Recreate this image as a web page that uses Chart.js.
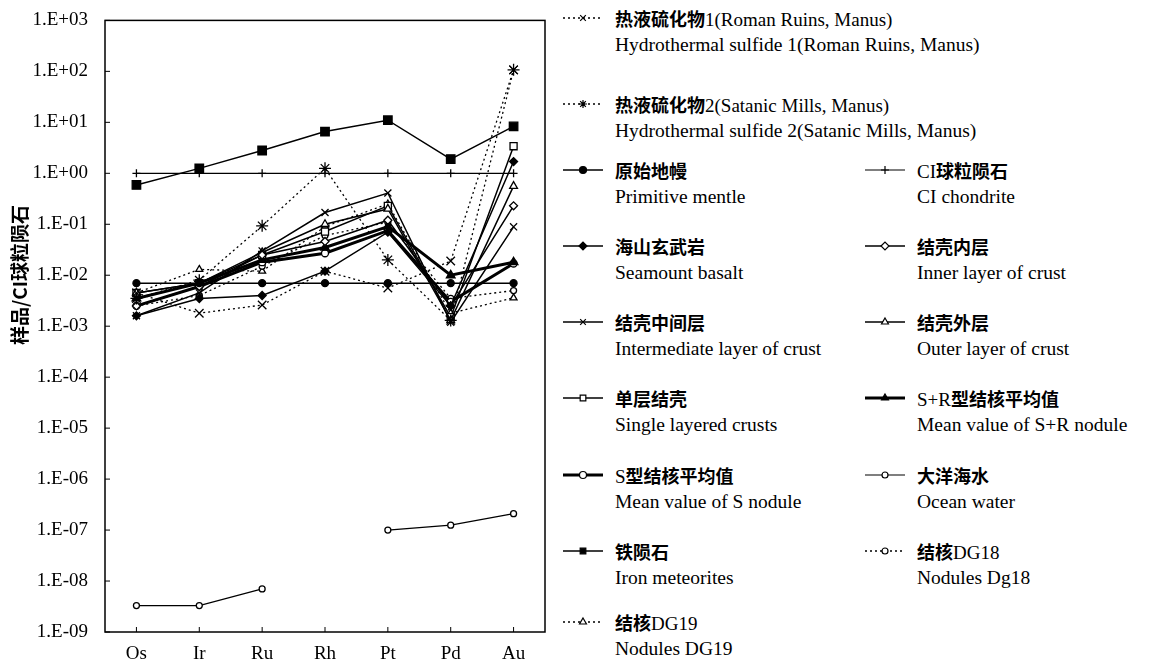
<!DOCTYPE html>
<html>
<head>
<meta charset="utf-8">
<script src="https://cdn.jsdelivr.net/npm/chart.js@4.4.0/dist/chart.umd.min.js"></script>
<style>
  body { margin: 0; background: #fff; width: 1169px; height: 662px; position: relative; overflow: hidden; }
  #plot { position: absolute; left: 0; top: 0; }
  .item { position: absolute; white-space: nowrap; color: #000; }
  .item canvas { position: absolute; left: 0; top: 0; }
  .zh { position: absolute; font-family: "Liberation Serif", "Noto Sans CJK SC", serif; font-size: 19px; line-height: 20px; }
  .zh b { font-family: "Noto Sans CJK SC", sans-serif; font-weight: 700; font-size: 18px; }
  .en { position: absolute; font-family: "Liberation Serif", serif; font-size: 19.5px; line-height: 20px; }
</style>
</head>
<body>
<canvas id="plot" width="560" height="662"></canvas>
<div id="legend"></div>
<script>
// elements on the x axis
var elements = ['Os', 'Ir', 'Ru', 'Rh', 'Pt', 'Pd', 'Au'];

// y axis ticks (log scale)
var yTickValues = [1e3, 1e2, 1e1, 1e0, 1e-1, 1e-2, 1e-3, 1e-4, 1e-5, 1e-6, 1e-7, 1e-8, 1e-9];
var yTickLabels = ['1.E+03', '1.E+02', '1.E+01', '1.E+00', '1.E-01', '1.E-02', '1.E-03',
                   '1.E-04', '1.E-05', '1.E-06', '1.E-07', '1.E-08', '1.E-09'];

// sample / CI chondrite values
var sulfide1     = [0.0045, 0.0018, 0.0026, 0.012, 0.0056, 0.019, 107];
var sulfide2     = [0.0035, 0.008, 0.093, 1.25, 0.02, 0.0013, 107];
var primMantle   = [0.007, 0.007, 0.007, 0.007, 0.007, 0.007, 0.007];
var ciChondrite  = [1, 1, 1, 1, 1, 1, 1];
var seamountBas  = [0.0016, 0.0035, 0.004, 0.012, 0.07, 0.0025, 1.7];
var innerCrust   = [0.0025, 0.006, 0.025, 0.046, 0.12, 0.0025, 0.23];
var midCrust     = [0.0016, 0.0045, 0.03, 0.17, 0.41, 0.0012, 0.089];
var outerCrust   = [0.0045, 0.007, 0.028, 0.10, 0.20, 0.0013, 0.56];
var singleCrust  = [0.0045, 0.007, 0.025, 0.072, 0.23, 0.0015, 3.4];
var srNodule     = [0.0035, 0.007, 0.02, 0.035, 0.09, 0.01, 0.018];
var sNodule      = [0.0025, 0.006, 0.018, 0.027, 0.075, 0.003, 0.017];
var oceanWater   = [3.3e-9, 3.3e-9, 7e-9, null, 1.0e-7, 1.25e-7, 2.1e-7];
var ironMeteor   = [0.59, 1.25, 2.8, 6.6, 11, 1.9, 8.3];
var dg18         = [0.0025, 0.004, 0.015, 0.06, 0.11, 0.0035, 0.005];
var dg19         = [0.0045, 0.013, 0.012, 0.09, 0.25, 0.0018, 0.0036];

var dotted = [2, 3];
var series = [
  { key: 's1', zh: '热液硫化物1(Roman Ruins, Manus)', en: 'Hydrothermal sulfide 1(Roman Ruins, Manus)', data: sulfide1, style: 'crossRot', r: 6, fill: '#fff', w: 1.3, dash: dotted },
  { key: 's2', zh: '热液硫化物2(Satanic Mills, Manus)', en: 'Hydrothermal sulfide 2(Satanic Mills, Manus)', data: sulfide2, style: 'star', r: 6, fill: '#fff', w: 1.3, dash: dotted },
  { key: 'pm', zh: '原始地幔', en: 'Primitive mentle', data: primMantle, style: 'circle', r: 3.5, fill: '#000', w: 1.5 },
  { key: 'ci', zh: 'CI球粒陨石', en: 'CI chondrite', data: ciChondrite, style: 'cross', r: 4, fill: '#000', w: 1.2 },
  { key: 'sb', zh: '海山玄武岩', en: 'Seamount basalt', data: seamountBas, style: 'rectRot', r: 4, fill: '#000', w: 1.5 },
  { key: 'ic', zh: '结壳内层', en: 'Inner layer of crust', data: innerCrust, style: 'rectRot', r: 4, fill: '#fff', w: 1.5 },
  { key: 'mc', zh: '结壳中间层', en: 'Intermediate layer of crust', data: midCrust, style: 'crossRot', r: 5, fill: '#fff', w: 1.5 },
  { key: 'oc', zh: '结壳外层', en: 'Outer layer of crust', data: outerCrust, style: 'triangle', r: 4.5, fill: '#fff', w: 1.5 },
  { key: 'sc', zh: '单层结壳', en: 'Single layered crusts', data: singleCrust, style: 'rect', r: 5, fill: '#fff', w: 1.5 },
  { key: 'sr', zh: 'S+R型结核平均值', en: 'Mean value of S+R nodule', data: srNodule, style: 'triangle', r: 5, fill: '#000', w: 3 },
  { key: 'sn', zh: 'S型结核平均值', en: 'Mean value of S nodule', data: sNodule, style: 'circle', r: 3.5, fill: '#fff', w: 3 },
  { key: 'ow', zh: '大洋海水', en: 'Ocean water', data: oceanWater, style: 'circle', r: 3, fill: '#fff', w: 1.2 },
  { key: 'im', zh: '铁陨石', en: 'Iron meteorites', data: ironMeteor, style: 'rect', r: 6, fill: '#000', w: 1.5 },
  { key: 'd18', zh: '结核DG18', en: 'Nodules Dg18', data: dg18, style: 'circle', r: 3, fill: '#fff', w: 1.3, dash: dotted },
  { key: 'd19', zh: '结核DG19', en: 'Nodules DG19', data: dg19, style: 'triangle', r: 4, fill: '#fff', w: 1.3, dash: dotted }
];

// legend layout: rows of [left, right]
var legendRows = [['s1'], ['s2'], ['pm', 'ci'], ['sb', 'ic'], ['mc', 'oc'], ['sc', 'sr'], ['sn', 'ow'], ['im', 'd18'], ['d19']];
var legendRowY = [18, 104, 170, 246, 322, 398, 475, 551, 622];
var legendColX = [562, 864];

var datasets = series.map(function (s) {
  return {
    label: s.zh,
    data: s.data,
    borderColor: '#000',
    borderWidth: s.w,
    borderDash: s.dash || [],
    pointStyle: s.style,
    pointRadius: s.r,
    pointHoverRadius: s.r,
    pointBackgroundColor: s.fill,
    pointBorderColor: '#000',
    pointBorderWidth: 1.3,
    fill: false,
    tension: 0,
    spanGaps: false
  };
});

var framePlugin = {
  id: 'frame',
  afterDraw: function (chart) {
    var ctx = chart.ctx, a = chart.chartArea, xs = chart.scales.x, ys = chart.scales.y;
    ctx.save();
    ctx.strokeStyle = '#000';
    ctx.lineWidth = 1.5;
    ctx.strokeRect(a.left, a.top, a.right - a.left, a.bottom - a.top);
    ctx.lineWidth = 1;
    yTickValues.forEach(function (v) {
      var py = ys.getPixelForValue(v);
      ctx.beginPath(); ctx.moveTo(a.left, py); ctx.lineTo(a.left + 5, py); ctx.stroke();
    });
    elements.forEach(function (e, i) {
      var px = xs.getPixelForTick(i);
      ctx.beginPath(); ctx.moveTo(px, a.bottom); ctx.lineTo(px, a.bottom - 5); ctx.stroke();
    });
    // y axis title
    ctx.translate(20, 275);
    ctx.rotate(-Math.PI / 2);
    ctx.fillStyle = '#000';
    ctx.font = '700 19px "Noto Sans CJK SC"';
    ctx.textAlign = 'center';
    ctx.textBaseline = 'middle';
    ctx.fillText('样品/CI球粒陨石', 0, 0);
    ctx.restore();
  }
};

var chart = new Chart(document.getElementById('plot').getContext('2d'), {
  type: 'line',
  data: { labels: elements, datasets: datasets },
  options: {
    responsive: false,
    animation: false,
    layout: { padding: { top: 15, right: 15, left: 0, bottom: 0 } },
    plugins: { legend: { display: false }, tooltip: { enabled: false } },
    scales: {
      x: {
        offset: true,
        grid: { display: false },
        border: { display: false },
        ticks: { color: '#000', padding: 3, font: { family: 'Liberation Serif', size: 19 } },
        afterFit: function (s) { s.height = 30; }
      },
      y: {
        type: 'logarithmic',
        min: 1e-9,
        max: 1e3,
        grid: { display: false },
        border: { display: false },
        afterBuildTicks: function (s) { s.ticks = yTickValues.map(function (v) { return { value: v }; }); },
        ticks: {
          autoSkip: false,
          color: '#000',
          padding: 9,
          font: { family: 'Liberation Serif', size: 19 },
          callback: function (v) {
            for (var i = 0; i < yTickValues.length; i++) {
              if (Math.abs(Math.log10(v) - Math.log10(yTickValues[i])) < 1e-6) return yTickLabels[i];
            }
            return '';
          }
        },
        afterFit: function (s) { s.width = 105; }
      }
    }
  },
  plugins: [framePlugin]
});

// chinese runs bold, latin runs plain serif
function zhHtml(text) {
  return text.replace(/[\u4e00-\u9fff]+/g, function (m) { return '<b>' + m + '</b>'; });
}

// html legend with small canvas samples
var legend = document.getElementById('legend');
legendRows.forEach(function (row, ri) {
  row.forEach(function (key, ci) {
    var s = series.filter(function (d) { return d.key === key; })[0];
    var item = document.createElement('div');
    item.className = 'item';
    item.style.left = legendColX[ci] + 'px';
    item.style.top = (legendRowY[ri] - 10) + 'px';
    var c = document.createElement('canvas');
    c.width = 42; c.height = 20;
    var g = c.getContext('2d');
    g.strokeStyle = '#000';
    g.lineWidth = s.w;
    g.setLineDash(s.dash || []);
    g.beginPath(); g.moveTo(1, 10); g.lineTo(41, 10); g.stroke();
    g.setLineDash([]);
    g.fillStyle = s.fill;
    g.lineWidth = 1.2;
    Chart.helpers.drawPoint(g, { pointStyle: s.style, radius: Math.min(s.r, 4), rotation: 0, borderWidth: 1.2 }, 21, 10);
    item.appendChild(c);
    var zh = document.createElement('div');
    zh.className = 'zh'; zh.style.left = '53px'; zh.style.top = '0px';
    zh.innerHTML = zhHtml(s.zh);
    var en = document.createElement('div');
    en.className = 'en'; en.style.left = '53px'; en.style.top = '27px';
    en.textContent = s.en;
    item.appendChild(zh); item.appendChild(en);
    legend.appendChild(item);
  });
});
</script>
</body>
</html>
